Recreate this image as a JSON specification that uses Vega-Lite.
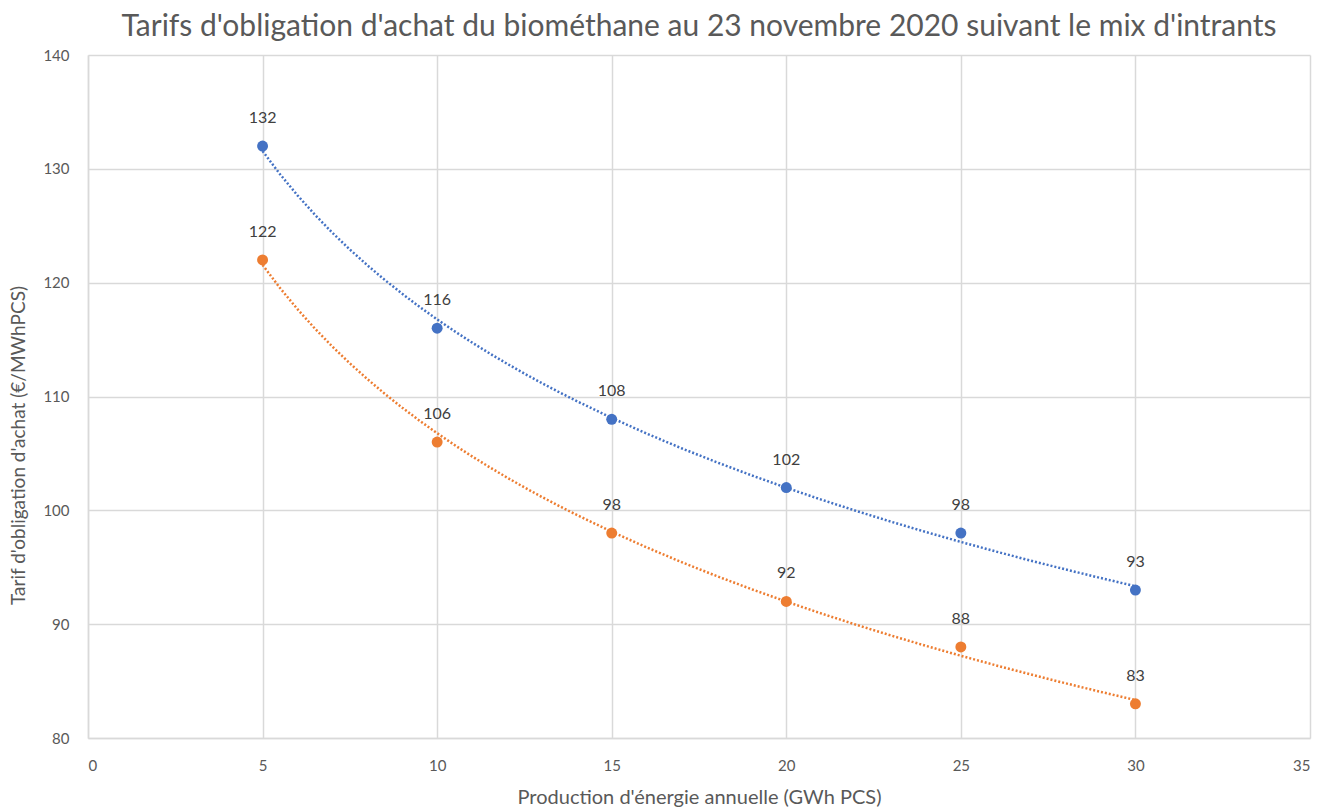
{
  "$schema": "https://vega.github.io/schema/vega-lite/v6.json",
  "autosize": "none",
  "width": 1222,
  "height": 683,
  "padding": {"left": 88, "top": 55, "right": 8, "bottom": 71},
  "background": "white",
  "title": {
    "text": "Tarifs d'obligation d'achat du biométhane au 23 novembre 2020 suivant le mix d'intrants",
    "font": "Lato",
    "fontSize": 30,
    "fontWeight": "normal",
    "color": "#595959",
    "anchor": "middle",
    "frame": "group",
    "offset": 6
  },
  "data": {
    "values": [
      {"x": 5, "tarif": 132, "serie": "Mix 1"},
      {"x": 10, "tarif": 116, "serie": "Mix 1"},
      {"x": 15, "tarif": 108, "serie": "Mix 1"},
      {"x": 20, "tarif": 102, "serie": "Mix 1"},
      {"x": 25, "tarif": 98, "serie": "Mix 1"},
      {"x": 30, "tarif": 93, "serie": "Mix 1"},
      {"x": 5, "tarif": 122, "serie": "Mix 2"},
      {"x": 10, "tarif": 106, "serie": "Mix 2"},
      {"x": 15, "tarif": 98, "serie": "Mix 2"},
      {"x": 20, "tarif": 92, "serie": "Mix 2"},
      {"x": 25, "tarif": 88, "serie": "Mix 2"},
      {"x": 30, "tarif": 83, "serie": "Mix 2"}
    ]
  },
  "encoding": {
    "x": {
      "field": "x",
      "type": "quantitative",
      "scale": {"domain": [0, 35], "nice": false},
      "axis": {
        "values": [0, 5, 10, 15, 20, 25, 30, 35],
        "title": "Production d'énergie annuelle (GWh PCS)",
        "titleFont": "Lato",
        "titleFontSize": 20,
        "titleFontWeight": "normal",
        "titleColor": "#595959",
        "titlePadding": 14,
        "labelFont": "Lato",
        "labelFontSize": 15,
        "labelColor": "#595959",
        "labelPadding": 20,
        "ticks": false,
        "domainColor": "#d9d9d9",
        "domainWidth": 1.5,
        "gridColor": "#d9d9d9",
        "gridWidth": 1.5
      }
    },
    "y": {
      "field": "tarif",
      "type": "quantitative",
      "scale": {"domain": [80, 140], "nice": false, "zero": false},
      "axis": {
        "values": [80, 90, 100, 110, 120, 130, 140],
        "title": "Tarif d'obligation d'achat (€/MWhPCS)",
        "titleFont": "Lato",
        "titleFontSize": 19,
        "titleFontWeight": "normal",
        "titleColor": "#595959",
        "titlePadding": 14,
        "titleY": 390,
        "labelFont": "Lato",
        "labelFontSize": 15,
        "labelColor": "#595959",
        "labelPadding": 19,
        "ticks": false,
        "domainColor": "#d9d9d9",
        "domainWidth": 1.5,
        "gridColor": "#d9d9d9",
        "gridWidth": 1.5
      }
    },
    "color": {
      "field": "serie",
      "type": "nominal",
      "scale": {"domain": ["Mix 1", "Mix 2"], "range": ["#4472C4", "#ED7D31"]},
      "legend": null
    }
  },
  "layer": [
    {
      "transform": [
        {"regression": "tarif", "on": "x", "groupby": ["serie"], "method": "log", "extent": [5, 30]}
      ],
      "mark": {"type": "line", "strokeDash": [2, 2], "strokeWidth": 2.5}
    },
    {
      "mark": {"type": "circle", "size": 120, "opacity": 1}
    },
    {
      "mark": {"type": "text", "dy": -28, "font": "Lato", "fontSize": 16, "color": "#404040"},
      "encoding": {
        "text": {"field": "tarif", "type": "quantitative"},
        "color": {"value": "#404040"}
      }
    }
  ],
  "config": {"view": {"stroke": null}}
}
